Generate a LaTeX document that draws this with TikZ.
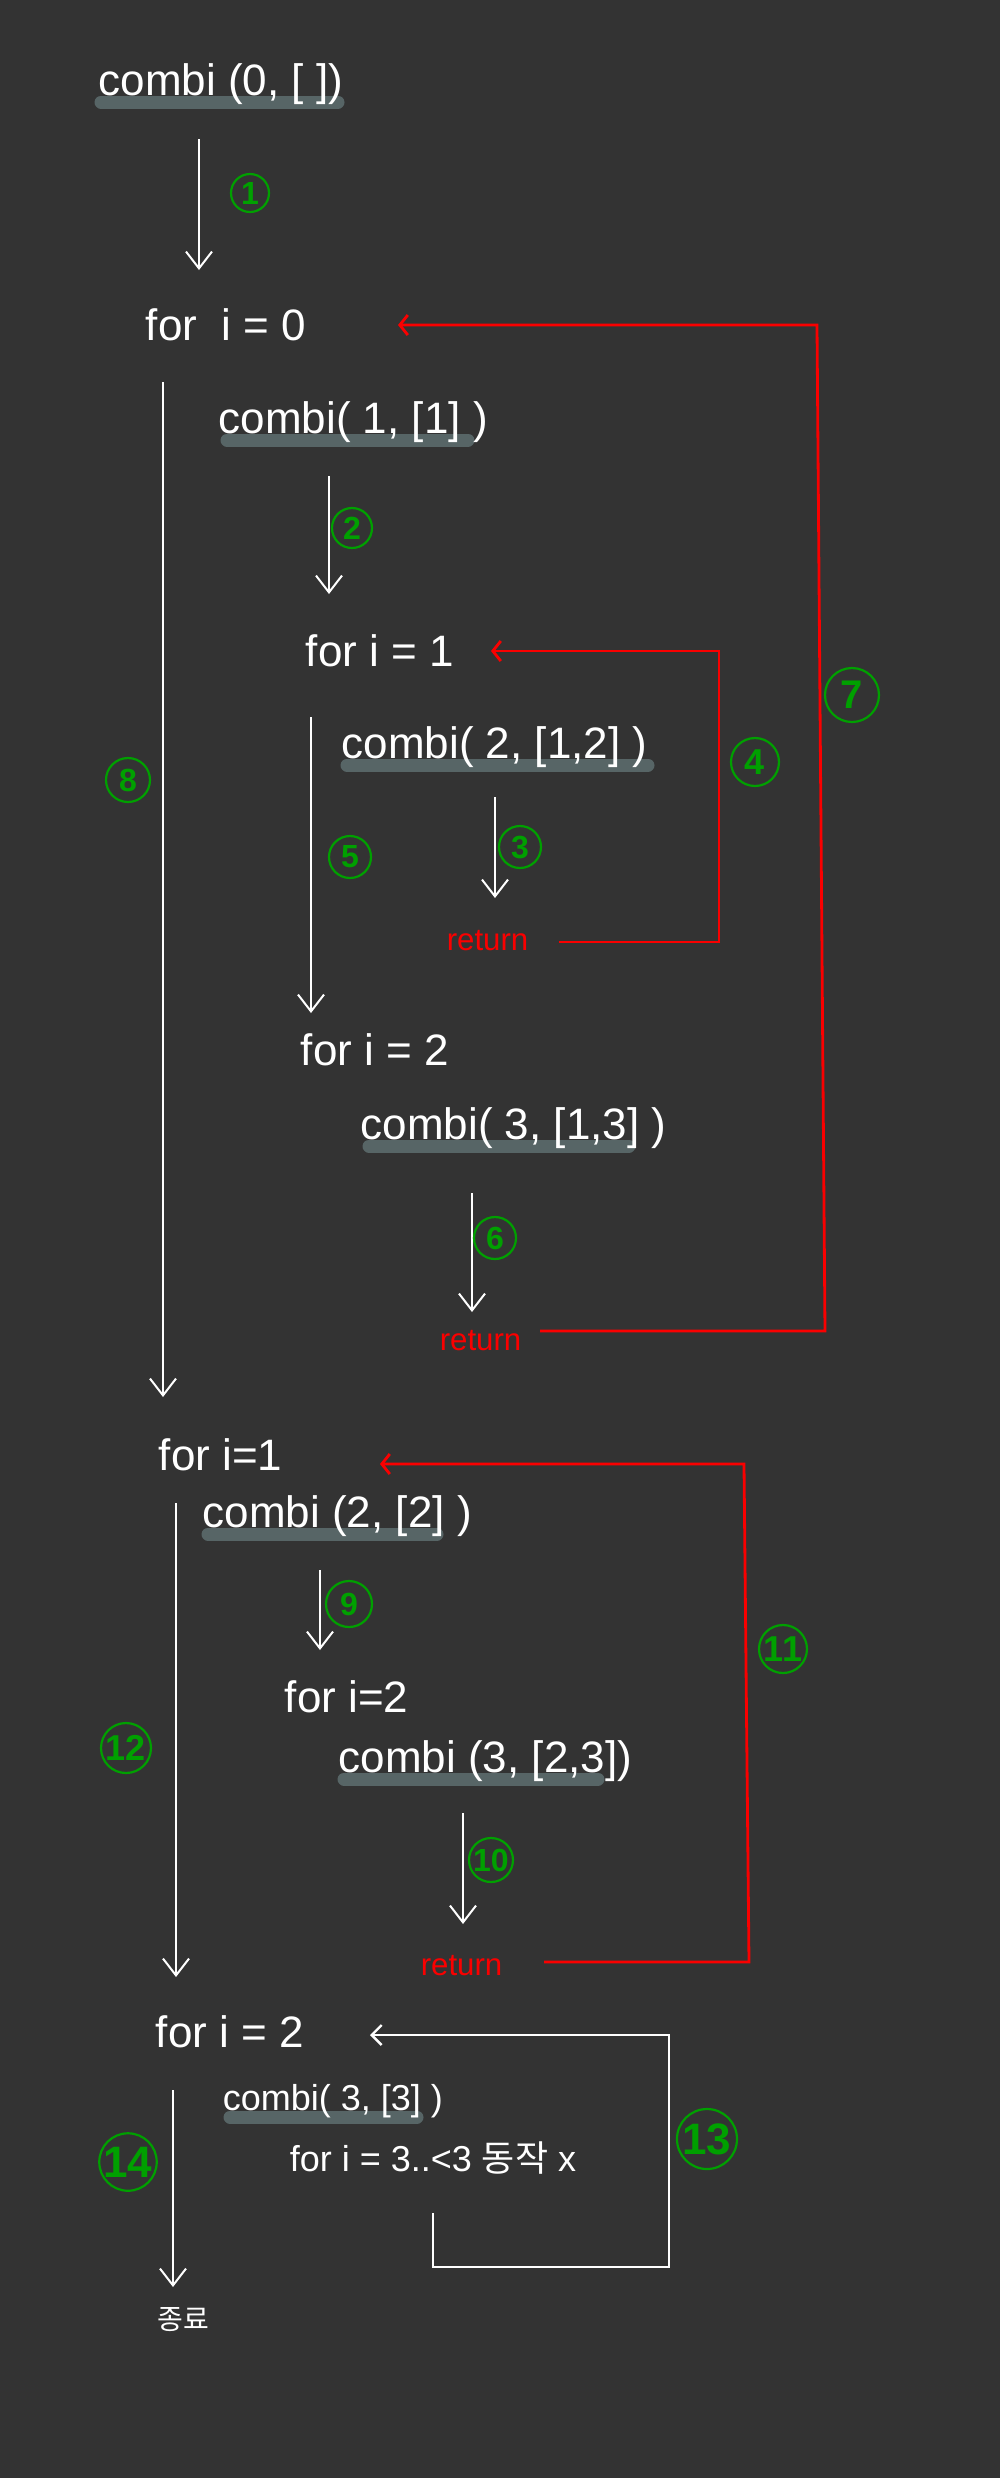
\documentclass[tikz,border=0pt]{standalone}
\usepackage{fontspec}
\setmainfont{Liberation Sans}
\newfontfamily\krfont{Noto Sans CJK KR}
\usetikzlibrary{arrows.meta}
\definecolor{boardcolor}{RGB}{51,51,51}
\definecolor{barcolor}{RGB}{87,101,102}
\definecolor{stepcolor}{RGB}{0,160,0}
\definecolor{backcolor}{RGB}{250,0,0}
\begin{document}
\begin{tikzpicture}[x=0.25pt,y=-0.25pt
,codetext/.style={text=white,anchor=west,inner sep=0,font=\fontsize{11}{13}\selectfont}
,calltext/.style={codetext,anchor=base west}
,smalltext/.style={codetext,font=\fontsize{9}{11}\selectfont}
,rettext/.style={text=backcolor,anchor=west,inner sep=0,font=\fontsize{7.8}{9}\selectfont}
,hlbar/.style={draw=barcolor,line width=3.25pt,line cap=round}
,callflow/.style={draw=white,line width=0.5pt,-{Straight Barb[length=4.2pt,width=6.5pt]}}
,backflow/.style={draw=backcolor,line width=0.7pt,-{Straight Barb[length=2pt,width=5pt]}}
,loopflow/.style={draw=white,line width=0.6pt,-{Straight Barb[length=2.5pt,width=5pt]}}
,stepnum/.style={circle,draw=stepcolor,line width=0.55pt,text=stepcolor,inner sep=0,minimum size=#1,font=\bfseries\fontsize{8}{8}\selectfont}
,stepnum/.default=10.5pt
]
\fill[boardcolor] (0,0) rectangle (1000,2478);
\useasboundingbox (0,0) rectangle (1000,2478);
\draw[hlbar] (101,102) -- (338,102);
\draw[hlbar] (227,440) -- (468,440);
\draw[hlbar] (347,765) -- (648,765);
\draw[hlbar] (369,1146) -- (629,1146);
\draw[hlbar] (208,1534) -- (437,1534);
\draw[hlbar] (344,1779) -- (598,1779);
\draw[hlbar] (230,2117) -- (417,2117);
\node[calltext] (call0) at (98,95) {combi (0, [ ])};
\node[codetext] (loop0) at (145,325) {for \ i = 0};
\node[calltext] (call1) at (218,433) {combi( 1, [1] )};
\node[codetext] (loop1) at (305,651) {for i = 1};
\node[calltext] (call2) at (341,758) {combi( 2, [1,2] )};
\node[rettext] (ret1) at (446,941) {return};
\node[codetext] (loop2) at (300,1050) {for i = 2};
\node[calltext] (call3) at (360,1139) {combi( 3, [1,3] )};
\node[rettext] (ret2) at (439,1341) {return};
\node[codetext] (loop3) at (158,1455) {for i=1};
\node[calltext] (call4) at (202,1527) {combi (2, [2] )};
\node[codetext] (loop4) at (284,1697) {for i=2};
\node[calltext] (call5) at (338,1772) {combi (3, [2,3])};
\node[rettext] (ret3) at (420,1966) {return};
\node[codetext] (loop5) at (155,2032) {for i = 2};
\node[smalltext,anchor=base west] (call6) at (222,2110) {combi( 3, [3] )};
\node[smalltext] (loop6) at (289,2158) {for i = 3..<3 {\krfont 동작} x};
\node[codetext,font=\krfont\fontsize{7}{8}\selectfont] (done) at (157,2320) {종료};
\coordinate (a1s) at (199,139);  \coordinate (a1e) at (199,270);
\coordinate (a2s) at (329,476);  \coordinate (a2e) at (329,594);
\coordinate (a3s) at (495,797);  \coordinate (a3e) at (495,898);
\coordinate (a5s) at (311,717);  \coordinate (a5e) at (311,1013);
\coordinate (a6s) at (472,1193); \coordinate (a6e) at (472,1312);
\coordinate (a8s) at (163,382);  \coordinate (a8e) at (163,1397);
\coordinate (a9s) at (320,1570); \coordinate (a9e) at (320,1650);
\coordinate (a10s) at (463,1813); \coordinate (a10e) at (463,1924);
\coordinate (a12s) at (176,1503); \coordinate (a12e) at (176,1977);
\coordinate (a14s) at (173,2090); \coordinate (a14e) at (173,2287);
\draw[callflow] (a1s) -- (a1e);
\draw[callflow] (a2s) -- (a2e);
\draw[callflow] (a3s) -- (a3e);
\draw[callflow] (a5s) -- (a5e);
\draw[callflow] (a6s) -- (a6e);
\draw[callflow] (a8s) -- (a8e);
\draw[callflow] (a9s) -- (a9e);
\draw[callflow] (a10s) -- (a10e);
\draw[callflow] (a12s) -- (a12e);
\draw[callflow] (a14s) -- (a14e);
\coordinate (ret1out) at (559,942);  \coordinate (loop1in) at (491,651);
\coordinate (ret2out) at (540,1331); \coordinate (loop0in) at (398,325);
\coordinate (ret3out) at (544,1962); \coordinate (loop3in) at (380,1464);
\coordinate (loop6out) at (433,2213); \coordinate (loop5in) at (370,2035);
\draw[backflow] (ret1out) -- (719,942) -- (719,651) -- (loop1in);
\draw[backflow] (ret2out) -- (825,1331) -- (817,325) -- (loop0in);
\draw[backflow] (ret3out) -- (749,1962) -- (744,1464) -- (loop3in);
\draw[loopflow] (loop6out) -- (433,2267) -- (669,2267) -- (669,2035) -- (loop5in);
\node[stepnum=9.5pt] (s1) at (250,193) {1};
\node[stepnum=10pt] (s2) at (352,528) {2};
\node[stepnum] (s3) at (520,847) {3};
\node[stepnum=12pt,font=\bfseries\fontsize{9}{9}\selectfont] (s4) at (755,762) {4};
\node[stepnum] (s5) at (350,857) {5};
\node[stepnum] (s6) at (495,1238) {6};
\node[stepnum=13.5pt,font=\bfseries\fontsize{10}{10}\selectfont] (s7) at (852,695) {7};
\node[stepnum=11pt] (s8) at (128,780) {8};
\node[stepnum=11.5pt] (s9) at (349,1604) {9};
\node[stepnum=11pt] (s10) at (491,1860) {10};
\node[stepnum=12pt,font=\bfseries\fontsize{9}{9}\selectfont] (s11) at (783,1649) {11};
\node[stepnum=12.5pt,font=\bfseries\fontsize{9}{9}\selectfont] (s12) at (126,1748) {12};
\node[stepnum=15pt,font=\bfseries\fontsize{11}{11}\selectfont] (s13) at (707,2139) {13};
\node[stepnum=14pt,font=\bfseries\fontsize{11}{11}\selectfont] (s14) at (128,2162) {14};
\end{tikzpicture}
\end{document}
